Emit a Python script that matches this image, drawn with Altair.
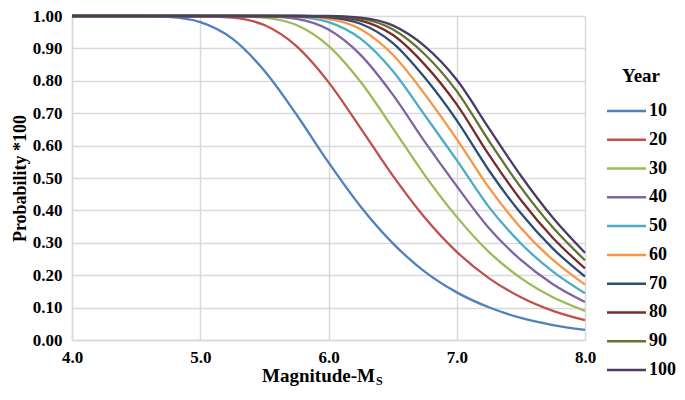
import altair as alt
import pandas as pd

# ---------------- data ----------------
magnitude = [4.0, 4.25, 4.5, 4.75, 5.0, 5.25, 5.5, 5.75, 6.0, 6.25, 6.5, 6.75, 7.0, 7.25, 7.5, 7.75, 8.0]
years = [10, 20, 30, 40, 50, 60, 70, 80, 90, 100]

p10 = [1.000, 1.000, 1.000, 0.997, 0.981, 0.930, 0.831, 0.696, 0.548, 0.412, 0.299, 0.211, 0.147, 0.101, 0.068, 0.046, 0.031]
p20 = [1.000, 1.000, 1.000, 1.000, 1.000, 0.995, 0.972, 0.907, 0.796, 0.654, 0.508, 0.378, 0.272, 0.191, 0.132, 0.090, 0.061]
p30 = [1.000, 1.000, 1.000, 1.000, 1.000, 1.000, 0.995, 0.972, 0.908, 0.797, 0.655, 0.509, 0.380, 0.272, 0.191, 0.132, 0.090]
p40 = [1.000, 1.000, 1.000, 1.000, 1.000, 1.000, 0.999, 0.991, 0.958, 0.880, 0.758, 0.612, 0.475, 0.346, 0.247, 0.172, 0.117]
p50 = [1.000, 1.000, 1.000, 1.000, 1.000, 1.000, 1.000, 0.997, 0.981, 0.930, 0.831, 0.694, 0.555, 0.411, 0.298, 0.211, 0.144]
p60 = [1.000, 1.000, 1.000, 1.000, 1.000, 1.000, 1.000, 0.999, 0.991, 0.959, 0.881, 0.759, 0.620, 0.471, 0.346, 0.247, 0.171]
p70 = [1.000, 1.000, 1.000, 1.000, 1.000, 1.000, 1.000, 1.000, 0.996, 0.976, 0.917, 0.810, 0.678, 0.524, 0.391, 0.282, 0.196]
p80 = [1.000, 1.000, 1.000, 1.000, 1.000, 1.000, 1.000, 1.000, 0.998, 0.986, 0.942, 0.850, 0.727, 0.572, 0.432, 0.315, 0.221]
p90 = [1.000, 1.000, 1.000, 1.000, 1.000, 1.000, 1.000, 1.000, 0.999, 0.992, 0.959, 0.882, 0.768, 0.615, 0.471, 0.347, 0.246]
p100 = [1.000, 1.000, 1.000, 1.000, 1.000, 1.000, 1.000, 1.000, 1.000, 0.995, 0.971, 0.907, 0.803, 0.654, 0.507, 0.377, 0.269]

series = [p10, p20, p30, p40, p50, p60, p70, p80, p90, p100]
colors = ["#4F81BD", "#C0504D", "#9BBB59", "#8064A2", "#4BACC6",
          "#F79646", "#2C4D75", "#772C2A", "#5F7530", "#4D3B62"]
x_ticks = [4.0, 5.0, 6.0, 7.0, 8.0]
y_ticks = [0.0, 0.1, 0.2, 0.3, 0.4, 0.5, 0.6, 0.7, 0.8, 0.9, 1.0]

rows = []
for yr, vals in zip(years, series):
    for m, p in zip(magnitude, vals):
        rows.append({"Magnitude": m, "Probability": p, "Year": yr})
df = pd.DataFrame(rows)

FONT = "Liberation Serif"
GRID = "#D9D9D9"

color = alt.Color("Year:N", scale=alt.Scale(domain=years, range=colors), legend=None)

lines = alt.Chart(df).mark_line(interpolate="monotone", strokeWidth=2.3).encode(
    x=alt.X("Magnitude:Q",
            scale=alt.Scale(domain=[4, 8], nice=False),
            axis=alt.Axis(values=x_ticks, format=".1f", title=None, grid=True,
                          ticks=False, labelPadding=9, labelFlush=False)),
    y=alt.Y("Probability:Q",
            scale=alt.Scale(domain=[0, 1], nice=False),
            axis=alt.Axis(values=y_ticks, format=".2f", title="Probability *100",
                          grid=True, ticks=False, labelPadding=10, titlePadding=3,
                          labelFlush=False)),
    color=color,
    order="Magnitude:Q",
)

# legend drawn from the years list
leg_df = pd.DataFrame({"Year": years, "label": [str(y) for y in years]})
leg_y = alt.Y("Year:O", scale=alt.Scale(type="point", range=[95, 354], padding=0), axis=None)
leg_rules = alt.Chart(leg_df).mark_rule(strokeWidth=2.5).encode(
    x=alt.value(535), x2=alt.value(574), y=leg_y, color=color)
leg_text = alt.Chart(leg_df).mark_text(
    align="left", baseline="middle", font=FONT, fontWeight="bold", fontSize=18, color="black"
).encode(x=alt.value(577), y=leg_y, text="label:N")

year_title = alt.Chart(pd.DataFrame({"t": ["Year"]})).mark_text(
    align="center", baseline="middle", font=FONT, fontWeight="bold", fontSize=19, color="black"
).encode(x=alt.value(569), y=alt.value(60), text="t:N")

xt_main = alt.Chart(pd.DataFrame({"t": ["Magnitude-M"]})).mark_text(
    align="right", baseline="middle", font=FONT, fontWeight="bold", fontSize=19, color="black"
).encode(x=alt.value(303), y=alt.value(360), text="t:N")
xt_sub = alt.Chart(pd.DataFrame({"t": ["S"]})).mark_text(
    align="left", baseline="middle", font=FONT, fontWeight="bold", fontSize=12, color="black"
).encode(x=alt.value(304), y=alt.value(365), text="t:N")

chart = alt.layer(lines, leg_rules, leg_text, year_title, xt_main, xt_sub).resolve_scale(
    y="independent"
).properties(
    width=513,
    height=324,
    autosize=alt.AutoSizeParams(type="none"),
    padding={"left": 64, "top": 8, "right": 92, "bottom": 47},
).configure_view(stroke=None).configure_axis(
    labelFont=FONT, labelFontWeight="bold", labelFontSize=17, labelColor="black",
    titleFont=FONT, titleFontWeight="bold", titleFontSize=18, titleColor="black",
    domainColor=GRID, domainWidth=1.5, gridColor=GRID, gridWidth=1.5,
)

chart.save("out.html", embed_options={"renderer": "svg", "actions": False})
